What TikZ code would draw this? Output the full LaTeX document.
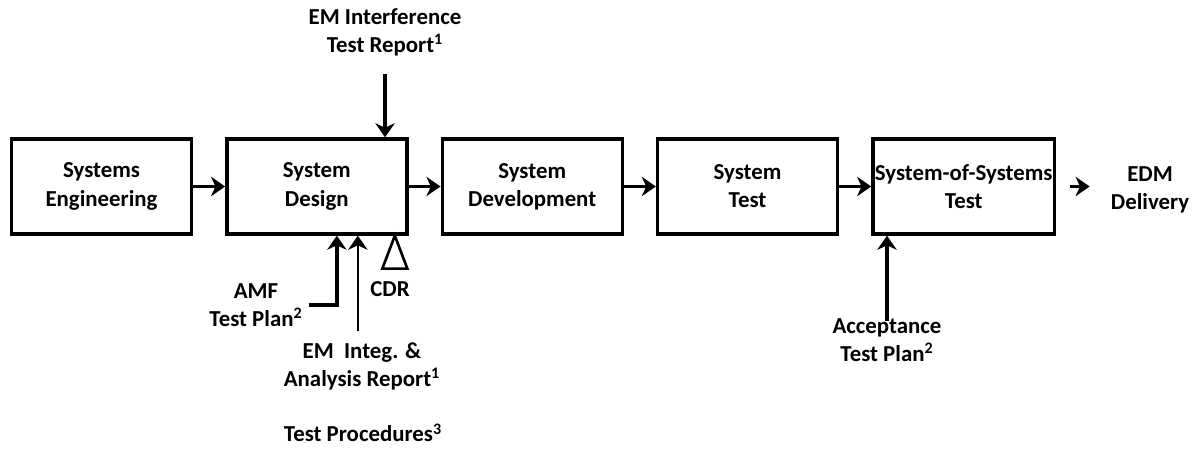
\documentclass[tikz,border=0pt]{standalone}
\usepackage{fontspec}
\setmainfont{Carlito}
\usetikzlibrary{arrows.meta, positioning, calc}

\begin{document}
\begin{tikzpicture}[
    node distance=0.64cm,
    block/.style={rectangle, draw, line width=1.9pt, minimum width=3.6cm, minimum height=1.9cm, align=center, font=\bfseries\fontsize{13}{16}\selectfont},
    lbl/.style={align=center, font=\bfseries\fontsize{13}{16}\selectfont},
    arr/.style={-{Stealth[length=8pt, width=11pt, inset=2.5pt]}, line width=1.9pt},
]
    \useasboundingbox (0,0) rectangle (23.88,-9.04);
    % process chain
    \node[block] (se) at (2.03,-3.73) {Systems\\Engineering};
    \node[block, right=of se] (sd) {System\\Design};
    \node[block, right=of sd] (sdev) {System\\Development};
    \node[block, right=of sdev] (st) {System\\Test};
    \node[block, right=of st] (sos) {\makebox[3.4cm]{System-of-Systems}\\Test};
    \node[lbl] (edm) at (23.0,-3.8) {EDM\\Delivery};

    \draw[arr] (se) -- (sd);
    \draw[arr] (sd) -- (sdev);
    \draw[arr] (sdev) -- (st);
    \draw[arr] (st) -- (sos);
    \draw[arr, shorten <=0.28cm, shorten >=0.3cm] (sos.east) -- (sos.east -| edm.west);

    % inputs to design
    \node[lbl] (emi) at (7.7,-0.64) {EM Interference\\Test Report\textsuperscript{1}};
    \draw[arr, shorten <=0.24cm] (emi.south) -- (emi.south |- sd.north);

    \node[lbl] (amf) at (5.12,-6.1) {AMF\\Test Plan\textsuperscript{2}};
    \draw[arr] (amf.east) -| ([xshift=0.4cm]sd.south);

    \node[lbl] (emia) at (7.24,-7.32) {EM~ Integ. \&\\Analysis Report\textsuperscript{1}};
    \coordinate (emiastart) at ([xshift=0.82cm, yshift=-1.9cm]sd.south);
    \draw[arr, line width=1.4pt] (emiastart) -- (emiastart |- sd.south);

    \coordinate (cdrtip) at ([xshift=1.56cm]sd.south);
    \draw[line width=1.5pt] (cdrtip) -- ++(-0.25,-0.66) -- ++(0.5,0) -- cycle;
    \node[lbl] (cdr) at (7.8,-5.78) {CDR};

    \node[lbl] (tp) at (7.26,-8.66) {Test Procedures\textsuperscript{3}};

    % input to system-of-systems test
    \node[lbl] (acc) at (17.74,-6.8) {Acceptance\\Test Plan\textsuperscript{2}};
    \draw[arr, shorten <=-0.18cm] (acc.north) -- (acc.north |- sos.south);
\end{tikzpicture}
\end{document}
